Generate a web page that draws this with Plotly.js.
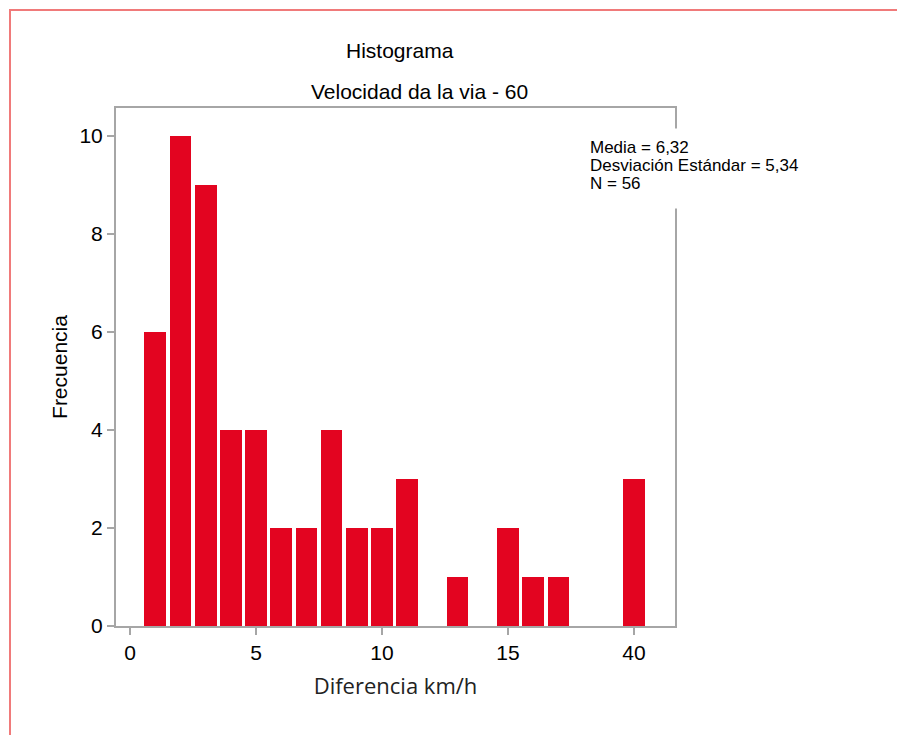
<!DOCTYPE html>
<html>
<head>
<meta charset="utf-8">
<script src="https://cdn.plot.ly/plotly-3.0.1.min.js"></script>
<style>
html,body{margin:0;padding:0;background:#fff;}
#frame{position:absolute;left:9px;top:9px;width:900px;height:740px;border:2px solid #f07a7a;box-sizing:border-box;}
#chart{position:absolute;left:0;top:0;width:897px;height:735px;}
</style>
</head>
<body>
<div id="frame"></div>
<div id="chart"></div>
<script>
const binPositions = [1, 2, 3, 4, 5, 6, 7, 8, 9, 10, 11, 13, 15, 16, 17, 20];
const frequencies = [6, 10, 9, 4, 4, 2, 2, 4, 2, 2, 3, 1, 2, 1, 1, 3];
const xTickVals = [0, 5, 10, 15, 20];
const xTickText = ['0', '5', '10', '15', '40'];
const yTickVals = [0, 2, 4, 6, 8, 10];
const statsLines = ['Media = 6,32', 'Desviación Estándar = 5,34', 'N = 56'];

const trace = {
  type: 'bar',
  x: binPositions,
  y: frequencies,
  width: 0.86,
  marker: {color: '#e30420', line: {width: 0}},
  hoverinfo: 'x+y'
};

const arial = 'Liberation Sans, Arial, sans-serif';
const axisFont = {family: arial, size: 21, color: '#000'};

const statAnnotations = statsLines.map((t, i) => ({
  xref: 'paper', yref: 'paper', x: 1, y: 1,
  xshift: -87, yshift: -(39 + i * 18),
  xanchor: 'left', yanchor: 'middle', align: 'left',
  text: t, showarrow: false,
  font: {family: arial, size: 17, color: '#000'}
}));

const layout = {
  width: 897, height: 735,
  paper_bgcolor: 'rgba(0,0,0,0)',
  plot_bgcolor: 'rgba(0,0,0,0)',
  margin: {l: 116, r: 222, t: 108, b: 109},
  showlegend: false,
  bargap: 0,
  xaxis: {
    range: [-0.56, 21.63],
    tickvals: xTickVals, ticktext: xTickText,
    ticks: 'outside', ticklen: 7, tickwidth: 2, tickcolor: '#a6a6a6',
    showline: true, linecolor: '#a6a6a6', linewidth: 2, mirror: true,
    showgrid: false, zeroline: false,
    tickfont: axisFont,
    title: {text: 'Diferencia km/h', font: {family: 'Open Sans, Noto Sans, sans-serif', size: 22, color: '#222'}, standoff: 15}
  },
  yaxis: {
    range: [0, 10.57],
    tickvals: yTickVals,
    ticks: 'outside', ticklen: 7, tickwidth: 2, tickcolor: '#a6a6a6',
    showline: true, linecolor: '#a6a6a6', linewidth: 2, mirror: true,
    showgrid: false, zeroline: false,
    tickfont: axisFont,
    title: {text: 'Frecuencia', font: {family: arial, size: 21, color: '#000'}, standoff: 6}
  },
  annotations: [
    {xref: 'paper', yref: 'paper', x: 0.5, y: 1, yshift: 58, xshift: 4, xanchor: 'center', yanchor: 'middle',
     text: 'Histograma', showarrow: false, font: {family: arial, size: 21, color: '#000'}},
    {xref: 'paper', yref: 'paper', x: 0.5, y: 1, yshift: 17, xshift: 24, xanchor: 'center', yanchor: 'middle',
     text: 'Velocidad da la via - 60', showarrow: false, font: {family: arial, size: 21, color: '#000'}},
    {xref: 'paper', yref: 'paper', x: 1, y: 1, xshift: 0, yshift: -20, xanchor: 'center', yanchor: 'top',
     text: ' ', showarrow: false, bgcolor: '#ffffff', width: 14, height: 79, borderpad: 0}
  ].concat(statAnnotations)
};

Plotly.newPlot('chart', [trace], layout, {displayModeBar: false, responsive: false});
</script>
</body>
</html>
